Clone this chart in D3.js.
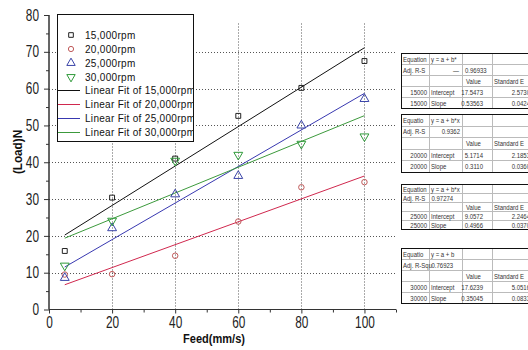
<!DOCTYPE html>
<html>
<head>
<meta charset="utf-8">
<script src="https://cdn.jsdelivr.net/npm/d3@7"></script>
<style>
  html, body { margin: 0; padding: 0; background: #fff; }
  svg { display: block; }
  .tick-label { font-family: "Liberation Sans", Arial, sans-serif; font-size: 16px; fill: #222; }
  .axis-title { font-family: "Liberation Sans", Arial, sans-serif; font-size: 13px; font-weight: bold; fill: #111; }
  .legend-text { font-family: "Liberation Sans", Arial, sans-serif; font-size: 10px; fill: #111; letter-spacing: 0.3px; }
  .cell { font-family: "Liberation Sans", Arial, sans-serif; font-size: 7.5px; fill: #333; }
</style>
</head>
<body>
<div id="chart"></div>
<script>
// Feed rate (mm/s) and measured load (N) for each spindle speed
const feed = [5, 20, 40, 60, 80, 100];
const speedNames = ["15,000rpm", "20,000rpm", "25,000rpm", "30,000rpm"];
const speedKeys = ["15000", "20000", "25000", "30000"];
const load15000 = [15.9, 30.4, 41.0, 52.6, 60.2, 67.5];
const load20000 = [9.5, 9.6, 14.6, 23.9, 33.2, 34.6];
const load25000 = [8.6, 22.1, 31.3, 36.3, 50.0, 57.2];
const load30000 = [11.9, 24.1, 40.4, 42.0, 45.0, 47.0];

// Linear fit results (y = a + b*x)
const fitIntercept = ["17.5473", "5.1714", "9.0572", "17.6239"];
const fitSlope = ["0.53563", "0.3110", "0.4966", "0.35045"];
const fitInterceptErr = ["2.5730", "2.1853", "2.2464", "5.0516"];
const fitSlopeErr = ["0.0424", "0.0360", "0.0370", "0.0833"];
const fitAdjR2 = ["0.96933", "0.9362", "0.97274", "0.76923"];
const eqLabel = ["Equation", "Equatio", "Equation", "Equatio"];
const eqText = ["y = a + b*", "y = a + b*x", "y = a + b*x", "y = a + b"];
const r2Label = ["Adj. R-S", "Adj. R-S", "Adj. R-S", "Adj. R-Squ"];

// Axis ticks
const xTicks = [0, 20, 40, 60, 80, 100];
const xMinor = [10, 30, 50, 70, 90, 110];
const yTicks = [0, 10, 20, 30, 40, 50, 60, 70, 80];
const yMinor = [5, 15, 25, 35, 45, 55, 65, 75];

const W = 528, H = 350;
const loads = [load15000, load20000, load25000, load30000];
const markerColor = ["#222222", "#c05a5a", "#3a44a8", "#2f9a3a"];
const lineColor = ["#111111", "#d0284e", "#3838b0", "#3c9a3c"];
const markerType = [d3.symbolSquare, d3.symbolCircle, d3.symbolTriangle, d3.symbolTriangle];
const markerSize = [24, 24, 34, 34];
const markerRot = [0, 0, 0, 180];
const NARROW = 0.74;     // horizontal squeeze for the condensed axis lettering

const svg = d3.select("#chart").append("svg").attr("width", W).attr("height", H);

const x = d3.scaleLinear().domain([0, 110]).range([49, 396]);
const y = d3.scaleLinear().domain([0, 80]).range([309.5, 15]);

// Dotted grid
const grid = svg.append("g").attr("stroke", "#555").attr("stroke-width", 1)
  .attr("stroke-dasharray", "1,2").attr("fill", "none");
grid.selectAll("line.h").data(yTicks.filter(v => v > 0 && v < 80)).join("line")
  .attr("x1", x(0)).attr("x2", x(110))
  .attr("y1", d => Math.round(y(d)) + 0.5).attr("y2", d => Math.round(y(d)) + 0.5);
grid.selectAll("line.v").data(xTicks.filter(v => v > 0)).join("line")
  .attr("y1", y(0)).attr("y2", y(77.8))
  .attr("x1", d => Math.round(x(d)) + 0.5).attr("x2", d => Math.round(x(d)) + 0.5);

// Axes
const axisColor = "#333";
const xAxis = d3.axisBottom(x).tickValues(xTicks).tickSize(4).tickFormat(d3.format("d"));
const gx = svg.append("g").attr("transform", `translate(0,${y(0)})`).call(xAxis);
gx.append("g").call(d3.axisBottom(x).tickValues(xMinor).tickSize(3).tickFormat(""));
gx.selectAll("path.domain").attr("stroke", axisColor).attr("d", `M${x(0)},0H${x(110)}`);
gx.selectAll("line").attr("stroke", axisColor);
gx.selectAll("text").attr("class", "tick-label").attr("x", 0).attr("y", 19).attr("dy", null)
  .attr("transform", `scale(${NARROW},1)`);

const yAxis = d3.axisLeft(y).tickValues(yTicks).tickSize(5).tickFormat(d3.format("d"));
const gy = svg.append("g").attr("transform", `translate(${x(0)},0)`).call(yAxis);
gy.append("g").call(d3.axisLeft(y).tickValues(yMinor).tickSize(3).tickFormat(""));
gy.selectAll("path.domain").attr("stroke", axisColor).attr("d", `M0,${y(0)}V${y(80)}`);
gy.selectAll("line").attr("stroke", axisColor);
gy.selectAll("text").attr("class", "tick-label").attr("x", -10 / NARROW)
  .attr("transform", `scale(${NARROW},1)`);

// Axis titles
svg.append("text").attr("class", "axis-title")
  .attr("transform", "translate(214,343) scale(0.85,1)")
  .attr("text-anchor", "middle").text("Feed(mm/s)");
svg.append("text").attr("class", "axis-title")
  .attr("transform", "translate(22,152) rotate(-90) scale(0.9,1)")
  .attr("text-anchor", "middle").text("(Load)N");

// Fit lines from x = 5 to x = 100
speedKeys.forEach((k, i) => {
  const a = +fitIntercept[i], b = +fitSlope[i];
  const x0 = d3.min(feed), x1 = d3.max(feed);
  svg.append("line")
    .attr("x1", x(x0)).attr("y1", y(a + b * x0))
    .attr("x2", x(x1)).attr("y2", y(a + b * x1))
    .attr("stroke", lineColor[i]).attr("stroke-width", 1);
});

// Measured points
loads.forEach((series, i) => {
  const sym = d3.symbol().type(markerType[i]).size(markerSize[i]);
  svg.append("g").selectAll("path").data(series).join("path")
    .attr("d", sym)
    .attr("transform", (d, j) => `translate(${x(feed[j])},${y(d)}) rotate(${markerRot[i]})`)
    .attr("fill", "none").attr("stroke", markerColor[i]).attr("stroke-width", 1);
});

// Legend
const lg = svg.append("g");
const lgBox = { x: 57.5, y: 14.5, w: 136, h: 127 };
lg.append("clipPath").attr("id", "lgclip").append("rect")
  .attr("x", lgBox.x).attr("y", lgBox.y).attr("width", lgBox.w).attr("height", lgBox.h);
lg.append("rect").attr("x", lgBox.x).attr("y", lgBox.y).attr("width", lgBox.w).attr("height", lgBox.h)
  .attr("fill", "#fff").attr("stroke", "#111").attr("stroke-width", 1);
const lgItems = lg.append("g").attr("clip-path", "url(#lgclip)");
const rowY = i => 35 + i * 14;
speedNames.forEach((name, i) => {
  const sym = d3.symbol().type(markerType[i]).size(markerSize[i] * 0.9);
  lgItems.append("path").attr("d", sym)
    .attr("transform", `translate(71,${rowY(i)}) rotate(${markerRot[i]})`)
    .attr("fill", "none").attr("stroke", markerColor[i]).attr("stroke-width", 1);
  lgItems.append("text").attr("class", "legend-text").attr("x", 85).attr("y", rowY(i) + 3.5).text(name);
});
speedNames.forEach((name, i) => {
  const ry = rowY(i + 4) - 0.5;
  lgItems.append("line").attr("x1", 58).attr("x2", 80).attr("y1", ry).attr("y2", ry)
    .attr("stroke", lineColor[i]).attr("stroke-width", 1);
  lgItems.append("text").attr("class", "legend-text").attr("x", 85).attr("y", ry + 3.5)
    .text("Linear Fit of " + name);
});

// Fit result tables
const colX = [401, 429, 462, 492, 534];
const tableTop = [53, 114, 184, 248];
const tableRowH = [11, 11.6, 9, 11];
const CELL_NARROW = 0.8;
speedKeys.forEach((k, i) => {
  const t = svg.append("g");
  const top = tableTop[i], rh = tableRowH[i];
  const bottom = top + rh * 5;
  t.append("rect").attr("x", colX[0] + 0.5).attr("y", top + 0.5)
    .attr("width", colX[4] - colX[0]).attr("height", rh * 5)
    .attr("fill", "#fff").attr("stroke", "#111").attr("stroke-width", 1);
  for (let r = 1; r < 5; r++) {
    t.append("line").attr("x1", colX[0] + 1).attr("x2", colX[4])
      .attr("y1", Math.round(top + r * rh) + 0.5).attr("y2", Math.round(top + r * rh) + 0.5)
      .attr("stroke", "#bbb");
  }
  for (let c = 1; c < 4; c++) {
    t.append("line").attr("y1", top + 1).attr("y2", bottom)
      .attr("x1", colX[c] + 0.5).attr("x2", colX[c] + 0.5).attr("stroke", "#bbb");
  }
  const base = r => top + r * rh + rh / 2 + 3;
  const cell = (txt, xx, r, anchor) => t.append("text").attr("class", "cell")
    .attr("transform", `translate(${xx},${base(r)}) scale(${CELL_NARROW},1)`)
    .attr("text-anchor", anchor || "start").text(txt);
  cell(eqLabel[i], colX[0] + 2, 0);
  cell(eqText[i], colX[1] + 2, 0);
  cell(r2Label[i], colX[0] + 2, 1);
  if (i === 0) {
    cell("\u2014", colX[2] - 3, 1, "end");
    cell(fitAdjR2[i], colX[2] + 3, 1);
  } else if (i === 1) {
    cell(fitAdjR2[i], colX[2] - 2, 1, "end");
  } else {
    cell(fitAdjR2[i], colX[1] + 2.5, 1);
  }
  cell("Value", colX[2] + 4, 2);
  cell("Standard E", colX[3] + 2, 2);
  cell(k, colX[1] - 2, 3, "end");
  cell("Intercept", colX[1] + 2, 3);
  cell(fitIntercept[i], colX[3] - 9, 3, "end");
  cell(fitInterceptErr[i], 530, 3, "end");
  cell(k, colX[1] - 2, 4, "end");
  cell("Slope", colX[1] + 2, 4);
  cell(fitSlope[i], colX[3] - 9, 4, "end");
  cell(fitSlopeErr[i], 530, 4, "end");
});
</script>
</body>
</html>
